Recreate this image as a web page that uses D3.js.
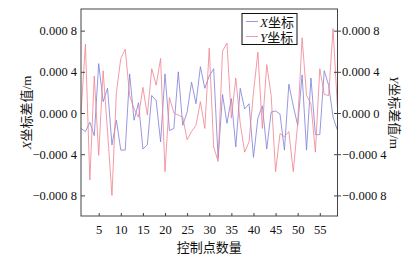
<!DOCTYPE html>
<html>
<head>
<meta charset="utf-8">
<script src="https://cdn.jsdelivr.net/npm/d3@7"></script>
<style>
  body { margin: 0; background: #fff; }
  svg { display: block; }
  text { font-family: "Liberation Serif", "Noto Sans CJK SC", serif; fill: #111; }
</style>
</head>
<body>
<svg id="chart"></svg>
<script>
(function () {
    'use strict';

    // control point index 1..59
    const points = d3.range(1, 60);

    // X coordinate differences (m)
    const xDiff = [
        -0.00015, -0.00018, -0.00009, -0.00022, 0.00048, 0.00011, 0.00024, -0.00031, -0.00007, -0.00036,
        -0.00036, 0.00038, -0.00007, 0.00010, -0.00035, -0.00031, 0.00017, 0.00012, -0.00028, 0.00038,
        -0.00017, -0.00015, 0.00040, -0.00012, 0.00001, 0.00030, 0.00009, 0.00045, 0.00024, 0.00036,
        0.00043, -0.00044, 0.00018, -0.00010, 0.00014, -0.00033, 0.00024, 0.00004, 0.00009, -0.00043,
        -0.00005, 0.00007, -0.00035, 0.00001, 0.00002, -0.00001, -0.00036, 0.00028, 0.00007, -0.00012,
        0.00037, -0.00036, 0.00034, -0.00021, -0.00021, 0.00041, 0.00027, -0.00004, -0.00017
    ];

    // Y coordinate differences (m)
    const yDiff = [
        0.00000, 0.00067, -0.00065, 0.00036, -0.00041, 0.00041, -0.00018, -0.00080, 0.00020, 0.00053,
        0.00062, 0.00017, 0.00004, -0.00004, 0.00025, -0.00002, 0.00043, 0.00027, 0.00053, -0.00057,
        0.00015, 0.00000, -0.00002, -0.00004, -0.00026, -0.00018, -0.00012, 0.00011, -0.00015, 0.00063,
        -0.00033, -0.00047, 0.00060, 0.00068, -0.00005, 0.00034, -0.00010, -0.00038, -0.00028, 0.00020,
        0.00059, -0.00015, 0.00047, 0.00017, -0.00057, -0.00020, -0.00023, -0.00018, -0.00057, -0.00010,
        0.00073, 0.00017, 0.00009, -0.00038, 0.00043, 0.00018, 0.00017, 0.00082, 0.00004
    ];

    const xTicks = [5, 10, 15, 20, 25, 30, 35, 40, 45, 50, 55];
    const yTicks = [0.0008, 0.0004, 0, -0.0004, -0.0008];
    const yTickLabels = ['0.000 8', '0.000 4', '0.000 0', '\u22120.000 4', '\u22120.000 8'];

    const series = [
        { name: 'X', values: xDiff, color: '#7d7dd8' },
        { name: 'Y', values: yDiff, color: '#f0828f' }
    ];

    const width = 412;
    const height = 257;
    const margin = ({ top: 9, right: 74.5, bottom: 41, left: 81 });

    const x = d3.scaleLinear()
        .domain([1, 59])
        .range([margin.left, width - margin.right]);

    const y = d3.scaleLinear()
        .domain([-0.001, 0.00101])
        .range([height - margin.bottom, margin.top]);

    const fmt = v => yTickLabels[yTicks.indexOf(v)];

    const svg = d3.select('#chart')
        .attr('width', width)
        .attr('height', height)
        .attr('viewBox', [0, 0, width, height]);

    // lines
    const line = d3.line()
        .x((d, i) => x(points[i]))
        .y(d => y(d));

    svg.append('g').classed('plots', true)
        .selectAll('path')
        .data(series)
        .join('path')
        .attr('fill', 'none')
        .attr('stroke', d => d.color)
        .attr('stroke-width', 0.8)
        .attr('d', d => line(d.values));

    // axes
    const axisColor = '#444';
    const styleAxis = g => {
        g.select('.domain').remove();
        g.selectAll('.tick line').attr('stroke', axisColor);
        g.selectAll('.tick text')
            .attr('fill', '#222')
            .style('font-size', '12.5px')
            .style('font-family', '"Liberation Serif", serif');
    };

    svg.append('g')
        .attr('transform', `translate(${margin.left},0)`)
        .call(d3.axisLeft(y).tickValues(yTicks).tickFormat(fmt).tickSize(-4).tickPadding(4))
        .call(styleAxis);

    svg.append('g')
        .attr('transform', `translate(${width - margin.right},0)`)
        .call(d3.axisRight(y).tickValues(yTicks).tickFormat(fmt).tickSize(3.5).tickPadding(1))
        .call(styleAxis)
        .call(g => g.selectAll('.tick line').attr('x1', -3.5));

    svg.append('g')
        .attr('transform', `translate(0,${height - margin.bottom})`)
        .call(d3.axisBottom(x).tickValues(xTicks).tickSize(-3).tickPadding(9.5))
        .call(styleAxis);

    // frame
    svg.append('rect')
        .attr('x', margin.left)
        .attr('y', margin.top)
        .attr('width', width - margin.left - margin.right)
        .attr('height', height - margin.top - margin.bottom)
        .attr('fill', 'none')
        .attr('stroke', axisColor)
        .attr('stroke-width', 1);

    // axis titles
    const plotMid = (margin.top + height - margin.bottom) / 2;

    svg.append('text')
        .attr('x', (margin.left + width - margin.right) / 2)
        .attr('y', 252)
        .attr('text-anchor', 'middle')
        .style('font-size', '13px')
        .text('控制点数量');

    const axisTitle = (sel, letter) => {
        sel.append('tspan').style('font-style', 'italic').text(letter);
        sel.append('tspan').text('坐标差值');
        sel.append('tspan').style('font-family', '"Liberation Serif", serif').text('/m');
    };

    svg.append('text')
        .attr('transform', `translate(31,${plotMid}) rotate(-90)`)
        .attr('text-anchor', 'middle')
        .style('font-size', '13px')
        .call(axisTitle, 'X');

    svg.append('text')
        .attr('transform', `translate(390,${plotMid}) rotate(90)`)
        .attr('text-anchor', 'middle')
        .style('font-size', '13px')
        .call(axisTitle, 'Y');

    // legend
    const legend = svg.append('g').attr('transform', 'translate(242,13.5)');
    legend.append('rect')
        .attr('width', 55)
        .attr('height', 31)
        .attr('fill', '#fff')
        .attr('stroke', '#111')
        .attr('stroke-width', 1);

    const rows = legend.selectAll('g.row')
        .data(series)
        .join('g')
        .classed('row', true)
        .attr('transform', (d, i) => `translate(0,${8 + i * 15})`);

    rows.append('line')
        .attr('x1', 4).attr('x2', 16)
        .attr('stroke', d => d.color)
        .attr('stroke-width', 0.8);

    const labels = rows.append('text')
        .attr('x', 18)
        .attr('y', 5)
        .style('font-size', '13px');
    labels.append('tspan').style('font-style', 'italic').text(d => d.name);
    labels.append('tspan').text('坐标');
})();
</script>
</body>
</html>
